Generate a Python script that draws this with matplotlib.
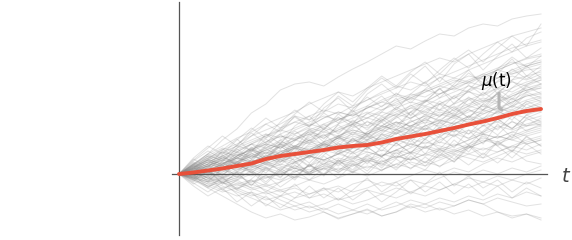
import numpy as np
import matplotlib.pyplot as plt

# simulated paths, height above the t axis (pixel-ish units), one value per time step
paths = [
    [0, 9, 20, 34, 45, 61, 70, 84, 90, 92, 88, 97, 105, 112, 120, 128, 125, 133, 140, 138, 146, 150, 148, 155, 158, 160],
    [0, -6, -14, -22, -30, -38, -44, -40, -46, -43, -38, -45, -40, -35, -42, -38, -30, -34, -28, -32, -26, -30, -38, -42, -40, -44],
    [0, 5, 12, 8, 18, 25, 30, 38, 35, 44, 50, 56, 52, 60, 68, 74, 80, 77, 85, 92, 98, 95, 104, 110, 115, 118],
    [0, -4, 2, -3, 4, 10, 6, 12, 20, 16, 24, 28, 22, 30, 36, 32, 40, 46, 42, 50, 55, 52, 58, 64, 60, 66],
    [0, 8, 14, 10, 18, 24, 20, 28, 34, 30, 26, 34, 40, 36, 44, 50, 56, 62, 58, 64, 70, 76, 72, 80, 86, 90],
    [0, -3, -10, -6, -12, -8, -2, -6, 2, 8, 4, 12, 18, 14, 10, 16, 22, 28, 24, 20, 26, 32, 38, 34, 40, 44],
    [0, 6, 2, 10, 16, 22, 30, 26, 34, 40, 46, 42, 50, 56, 62, 58, 66, 72, 80, 86, 82, 90, 96, 102, 108, 112],
    [0, 2, -4, -10, -6, -14, -20, -16, -24, -20, -14, -18, -10, -6, -12, -8, -2, 4, 0, 6, 2, 10, 16, 12, 18, 22],
    [0, 10, 18, 26, 22, 30, 38, 44, 52, 48, 56, 62, 58, 66, 72, 78, 74, 82, 88, 84, 92, 98, 104, 100, 106, 110],
    [0, -2, 4, 10, 6, 14, 10, 4, 12, 18, 14, 20, 26, 22, 18, 24, 30, 26, 34, 40, 36, 42, 48, 44, 50, 54],
    [0, 4, 10, 16, 12, 20, 26, 32, 28, 36, 42, 38, 46, 52, 48, 56, 62, 68, 64, 70, 76, 72, 80, 86, 92, 96],
    [0, -5, -12, -18, -14, -20, -26, -22, -28, -34, -30, -24, -30, -26, -20, -24, -18, -22, -16, -10, -14, -8, -12, -6, -10, -4],
    [0, 7, 14, 20, 28, 34, 40, 36, 44, 50, 46, 54, 60, 66, 72, 68, 76, 82, 88, 94, 90, 98, 104, 110, 116, 120],
    [0, 3, 8, 4, 10, 6, 12, 18, 14, 22, 28, 24, 20, 26, 32, 28, 36, 30, 38, 44, 40, 48, 52, 46, 54, 58],
    [0, -1, -6, 0, 6, 2, 8, 14, 10, 18, 24, 30, 26, 34, 40, 36, 44, 48, 54, 50, 58, 64, 60, 68, 74, 78],
    [0, 5, 12, 18, 26, 32, 38, 46, 52, 58, 64, 60, 68, 74, 80, 86, 92, 88, 96, 102, 108, 114, 120, 126, 130, 134],
    [0, -4, -8, -2, -8, -14, -10, -16, -12, -6, -10, -4, 2, -2, 4, 10, 6, 12, 8, 14, 20, 16, 22, 28, 24, 30],
    [0, 6, 12, 8, 16, 12, 18, 24, 20, 28, 24, 32, 38, 34, 42, 48, 44, 40, 46, 52, 48, 56, 62, 58, 66, 70],
    [0, 2, 8, 14, 20, 16, 24, 30, 26, 34, 38, 44, 50, 46, 54, 60, 56, 64, 70, 66, 74, 80, 86, 82, 90, 94],
    [0, -3, 2, -4, 2, 8, 4, 0, 6, 2, 8, 14, 10, 6, 12, 18, 14, 20, 16, 22, 28, 24, 30, 26, 32, 36],
    [0, 8, 16, 24, 30, 38, 44, 50, 58, 54, 62, 70, 66, 74, 82, 88, 84, 92, 100, 96, 104, 110, 116, 122, 128, 132],
    [0, -6, -12, -8, -16, -22, -18, -26, -32, -28, -36, -30, -36, -40, -34, -28, -34, -30, -24, -28, -22, -26, -20, -24, -18, -22],
    [0, 4, 0, 6, 12, 8, 14, 20, 26, 22, 30, 36, 32, 40, 46, 52, 48, 54, 60, 56, 62, 68, 64, 72, 78, 82],
    [0, 1, 6, 12, 8, 4, 10, 16, 12, 18, 14, 20, 26, 32, 28, 34, 30, 36, 42, 38, 44, 40, 46, 52, 48, 52],
    [0, 9, 16, 22, 18, 26, 32, 38, 34, 42, 48, 54, 60, 56, 64, 70, 76, 72, 80, 86, 92, 88, 96, 100, 104, 106],
    [0, -2, -8, -4, -10, -6, -12, -8, -2, -6, 0, 6, 2, 8, 4, 10, 16, 12, 18, 24, 20, 26, 22, 28, 34, 38],
    [0, 5, 10, 6, 14, 20, 16, 22, 28, 34, 30, 38, 44, 40, 48, 44, 52, 58, 54, 62, 68, 64, 72, 78, 84, 88],
    [0, 3, -2, 4, 0, 6, 12, 8, 2, 8, 14, 10, 16, 12, 18, 24, 20, 26, 22, 28, 34, 40, 36, 42, 38, 42],
    [0, 7, 12, 18, 24, 30, 26, 34, 40, 46, 42, 50, 56, 62, 58, 66, 72, 68, 76, 82, 88, 84, 92, 98, 94, 100],
    [0, -4, 0, -6, -2, -8, -4, 2, -4, 2, 8, 4, 10, 16, 12, 18, 14, 20, 26, 22, 28, 34, 30, 36, 42, 46],
    [0, 4, 8, 14, 10, 16, 22, 18, 26, 32, 28, 36, 42, 38, 34, 40, 46, 52, 48, 56, 52, 60, 66, 62, 70, 74],
    [0, 2, -4, -8, -14, -10, -16, -22, -18, -24, -20, -26, -22, -16, -20, -14, -18, -12, -16, -10, -4, -8, -2, -6, 0, 4],
    [0, 6, 14, 22, 28, 24, 32, 40, 46, 52, 58, 54, 62, 68, 64, 72, 78, 84, 80, 88, 94, 100, 96, 104, 110, 114],
    [0, -1, 4, 0, -6, 0, 6, 2, 8, 4, 10, 16, 12, 18, 24, 20, 26, 32, 28, 24, 30, 36, 32, 38, 44, 48],
    [0, 8, 4, 10, 16, 12, 18, 14, 20, 26, 22, 28, 34, 30, 38, 44, 40, 48, 54, 50, 58, 54, 62, 68, 64, 68],
    [0, 3, 10, 16, 22, 18, 24, 30, 36, 42, 38, 46, 52, 48, 56, 62, 68, 74, 70, 78, 84, 90, 86, 94, 98, 102],
    [0, -5, -2, -8, -4, 2, -4, 0, 6, 0, 6, 2, 8, 14, 10, 6, 12, 8, 14, 20, 16, 12, 18, 24, 20, 24],
    [0, 5, 0, 6, 12, 18, 14, 20, 26, 22, 30, 26, 32, 38, 44, 40, 48, 54, 50, 58, 64, 60, 66, 72, 78, 80],
    [0, 10, 20, 28, 36, 42, 50, 56, 62, 70, 76, 82, 78, 86, 92, 98, 104, 110, 116, 112, 120, 126, 132, 138, 142, 146],
    [0, -3, -8, -14, -10, -16, -12, -18, -14, -20, -16, -12, -18, -14, -8, -12, -6, -10, -4, 2, -2, 4, 0, 6, 2, 8],
    [0, 4, 10, 6, 12, 18, 24, 20, 28, 24, 32, 38, 34, 42, 48, 44, 52, 58, 64, 60, 68, 74, 70, 78, 84, 86],
    [0, 2, 6, 2, 8, 14, 10, 16, 22, 18, 24, 20, 28, 34, 30, 36, 42, 38, 46, 42, 50, 56, 52, 60, 56, 62],
    [0, -2, 2, 8, 4, 10, 16, 12, 18, 24, 30, 26, 34, 30, 36, 42, 48, 44, 52, 58, 54, 62, 68, 64, 72, 76],
    [0, 6, 2, -4, 2, -2, 4, 10, 6, 0, 6, 12, 8, 14, 20, 16, 22, 18, 24, 30, 26, 32, 38, 34, 30, 34],
    [0, 9, 18, 14, 22, 30, 36, 44, 40, 48, 56, 62, 58, 66, 74, 80, 76, 84, 90, 96, 92, 100, 106, 112, 108, 112],
    [0, -2, -6, -12, -18, -24, -30, -36, -32, -38, -34, -40, -36, -30, -36, -32, -26, -30, -36, -32, -26, -30, -24, -28, -32, -30],
    [0, 3, 8, 14, 10, 18, 14, 22, 28, 24, 32, 38, 44, 40, 46, 52, 48, 56, 62, 58, 66, 72, 78, 74, 82, 86],
    [0, 1, -4, 2, 8, 4, 10, 6, 12, 18, 14, 20, 16, 22, 18, 24, 30, 26, 32, 28, 34, 40, 36, 42, 48, 50],
    [0, 7, 14, 10, 18, 24, 30, 26, 34, 40, 36, 44, 50, 56, 52, 60, 66, 62, 70, 76, 82, 78, 86, 92, 88, 94],
    [0, -4, -10, -16, -22, -18, -24, -30, -36, -32, -38, -44, -40, -36, -42, -38, -32, -38, -34, -40, -36, -42, -38, -44, -40, -46],
    [0, 12, 4, 18, 10, 25, 14, 30, 22, 40, 28, 36, 50, 38, 55, 45, 62, 50, 70, 58, 75, 64, 82, 70, 88, 80],
    [0, -8, 5, -10, 2, -12, 6, -4, 12, 0, 18, 8, 22, 10, 28, 16, 35, 20, 38, 26, 44, 30, 50, 36, 56, 48],
    [0, 15, 6, 24, 35, 22, 40, 30, 48, 58, 44, 60, 50, 68, 78, 64, 80, 92, 76, 90, 104, 88, 100, 115, 98, 108],
    [0, -10, -2, -16, -6, 4, -8, 6, -4, 10, 0, 14, 2, 18, 6, 22, 10, 4, 20, 12, 28, 16, 32, 22, 38, 28],
    [0, 6, 18, 8, 22, 12, 28, 40, 26, 44, 32, 50, 64, 48, 62, 76, 58, 72, 86, 70, 84, 98, 80, 94, 108, 96],
    [0, 10, 20, 12, 26, 38, 50, 42, 58, 48, 66, 76, 62, 80, 90, 78, 96, 108, 92, 110, 120, 104, 118, 130, 116, 126],
    [0, -6, 8, -2, 12, 2, -10, 4, -6, 10, -2, 14, 4, 20, 8, 24, 14, 28, 18, 34, 22, 40, 28, 16, 30, 20],
    [0, 4, -8, 6, -4, 10, 22, 12, 26, 16, 30, 20, 36, 24, 40, 30, 46, 34, 52, 42, 58, 48, 64, 54, 70, 62],
    [0, 14, 26, 38, 28, 44, 56, 46, 60, 72, 62, 78, 68, 84, 96, 86, 100, 90, 104, 116, 106, 120, 132, 122, 136, 142],
    [0, -12, -22, -14, -28, -18, -32, -22, -10, -24, -14, -26, -16, -4, -18, -8, -20, -10, 2, -12, -2, -14, -6, -18, -8, -14],
    [0, 8, -2, 10, 20, 8, 16, 28, 18, 30, 40, 28, 42, 34, 48, 58, 46, 60, 52, 66, 56, 70, 80, 68, 82, 76],
    [0, 2, 14, 4, 16, 26, 16, 30, 20, 34, 24, 38, 28, 42, 52, 40, 54, 44, 58, 68, 56, 70, 62, 76, 66, 72],
    [0, -4, -14, -4, -16, -6, -18, -8, 4, -6, 6, -4, 10, 0, 14, 4, 18, 8, 22, 12, 26, 38, 28, 40, 30, 34],
    [0, 11, 3, 17, 9, 23, 35, 25, 39, 31, 45, 57, 47, 61, 53, 67, 59, 73, 85, 75, 89, 79, 93, 105, 95, 104],
    [0, -2, 10, 22, 12, 24, 14, 28, 18, 8, 22, 12, 26, 38, 28, 42, 32, 46, 36, 50, 40, 54, 44, 58, 48, 56],
    [0, 7, -5, 9, -3, 11, 1, 15, 5, 19, 9, 23, 13, 27, 17, 31, 21, 35, 47, 37, 51, 41, 55, 45, 59, 52],
    [0, 16, 28, 20, 34, 46, 36, 52, 64, 54, 70, 82, 72, 86, 98, 88, 102, 112, 100, 114, 124, 112, 126, 138, 128, 150],
    [0, -9, -18, -8, -20, -32, -22, -34, -24, -12, -24, -14, -26, -16, -28, -18, -6, -18, -8, -20, -10, -22, -12, -24, -14, -22],
    [0, 5, 15, 25, 15, 27, 17, 31, 43, 33, 45, 35, 49, 39, 53, 65, 55, 67, 57, 71, 83, 73, 85, 75, 89, 98],
    [0, -3, 9, -1, 11, 1, 13, 3, 17, 7, 19, 31, 21, 33, 23, 37, 27, 41, 31, 45, 35, 49, 39, 53, 43, 50],
    [0, 9, 1, 13, 25, 15, 29, 19, 33, 45, 35, 49, 39, 53, 43, 57, 69, 59, 73, 63, 77, 67, 81, 93, 83, 90],
    [0, -7, 3, -9, 1, -11, -1, -13, -3, 9, -1, 11, 1, 13, 3, 15, 5, 17, 7, 19, 9, 21, 11, 23, 13, 10],
    [0, 13, 23, 15, 29, 41, 31, 45, 57, 47, 61, 51, 65, 77, 67, 81, 71, 85, 97, 87, 101, 91, 105, 117, 107, 118],
    [0, 3, -7, 5, 17, 7, 19, 9, 21, 11, 25, 37, 27, 41, 31, 45, 35, 49, 39, 53, 65, 55, 69, 59, 73, 66],
    [0, -5, 7, 19, 9, 21, 11, 23, 13, 1, 13, 3, 15, 27, 17, 31, 21, 35, 25, 39, 29, 43, 55, 45, 59, 64],
    [0, 10, 0, 12, 2, 14, 26, 16, 28, 18, 32, 22, 36, 26, 40, 52, 42, 56, 46, 60, 50, 64, 76, 66, 80, 72],
    [0, 6, 16, 6, 18, 30, 20, 34, 24, 38, 50, 40, 54, 44, 58, 48, 62, 74, 64, 78, 68, 82, 72, 86, 98, 90],
    [0, -1, -13, -3, -15, -5, 7, -3, 9, -1, 11, 1, 13, 3, 17, 7, 21, 11, 25, 15, 29, 19, 33, 23, 37, 28],
]

# mean curve mu(t)
mu = [0, 1.5, 3.5, 5.5, 8, 10.5, 15, 18, 20, 22, 24, 26.5, 28, 29, 31.5, 35,
      37.5, 40, 43, 46, 49.5, 52.5, 56, 60, 63, 65]

steps = np.arange(len(mu))

fig = plt.figure(figsize=(5.72, 2.4), dpi=100)
ax = fig.add_axes([0, 0, 1, 1])
ax.set_xlim(-12.36, 27.14)
ax.set_ylim(-66, 174)
ax.axis('off')

for p in paths:
    ax.plot(steps, p, color='#8a8a8a', alpha=0.25, lw=0.7)

# axes
ax.plot([0, 0], [-61, 172], color='#555555', lw=0.9)
ax.plot([-0.5, 25.4], [0, 0], color='#555555', lw=0.9)

ax.plot(steps, mu, color='#e8503a', lw=2.8, solid_capstyle='round', zorder=5)

ax.text(26.45, -2, 't', fontsize=14, style='italic', color='#444444',
        ha='left', va='center')
ax.text(21.9, 88, r'$\mu$(t)', fontsize=12, color='black', ha='center', va='baseline')
ax.plot([22.1, 22.1, 22.3], [81, 66, 64], color='#b5b5b5', lw=2.2,
        solid_capstyle='round', zorder=6)

fig.savefig('out.png', dpi=100)
